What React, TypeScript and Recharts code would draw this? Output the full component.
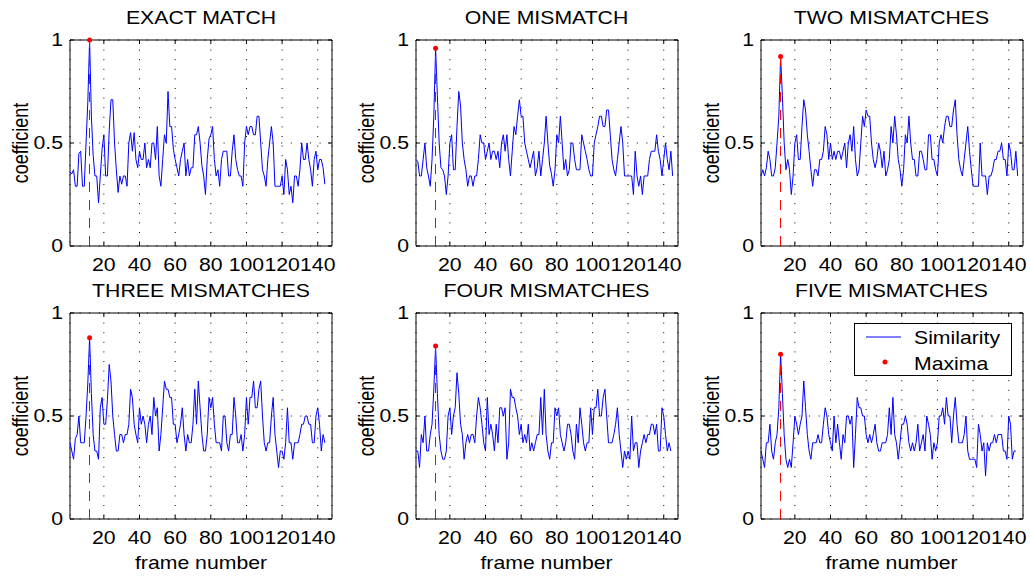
import React from 'react';
import { ComposedChart, Line, XAxis, YAxis, CartesianGrid, ReferenceLine, ReferenceDot, ReferenceArea, Legend } from 'recharts';

const FONT = '"Liberation Sans", Arial, Helvetica, sans-serif';
const STRETCH = 1.18; // the reference text is a bit wider than plain Arial
const PLOT_W = 262;
const PLOT_H = 206;
const AXIS_W = 70;
const TOP_PAD = 40;
const BOTTOM_PAD = 60;
const RIGHT_PAD = 10;

const titles = ['EXACT MATCH', 'ONE MISMATCH', 'TWO MISMATCHES', 'THREE MISMATCHES', 'FOUR MISMATCHES', 'FIVE MISMATCHES'];
const xTicks = [20, 40, 60, 80, 100, 120, 140];
const yTicks = [0, 0.5, 1];
const frameRange = [1, 148];
const peakFrame = 12;
const legendLabels = ['Similarity', 'Maxima'];

const exactMatch = [
  0.36, 0.35, 0.37, 0.29, 0.29, 0.45, 0.46, 0.29, 0.29, 0.5, 0.7, 1.0,
  0.63, 0.44, 0.34, 0.34, 0.21, 0.34, 0.47, 0.54, 0.34, 0.34, 0.56, 0.71, 0.71, 0.5,
  0.37, 0.26, 0.34, 0.3, 0.34, 0.34, 0.29, 0.5, 0.55, 0.46, 0.55, 0.42, 0.38, 0.46,
  0.42, 0.42, 0.5, 0.38, 0.42, 0.38, 0.5, 0.5, 0.42, 0.58, 0.34, 0.29, 0.42, 0.54,
  0.5, 0.75, 0.58, 0.58, 0.47, 0.42, 0.38, 0.34, 0.42, 0.46, 0.5, 0.34, 0.42, 0.34,
  0.38, 0.38, 0.54, 0.54, 0.58,
  0.5, 0.39, 0.34, 0.25, 0.42, 0.52, 0.54, 0.58, 0.42, 0.34,
  0.37, 0.29, 0.42, 0.46, 0.46, 0.46, 0.34, 0.34, 0.46, 0.54,
  0.42, 0.37, 0.34, 0.34, 0.29, 0.5, 0.58, 0.54, 0.58, 0.58,
  0.54, 0.54, 0.63, 0.63, 0.5, 0.37, 0.34, 0.29, 0.42, 0.5,
  0.58, 0.5, 0.29, 0.29, 0.29, 0.29, 0.34, 0.25, 0.42, 0.37,
  0.25, 0.29, 0.21, 0.34, 0.34, 0.29, 0.37, 0.5, 0.42, 0.42,
  0.5, 0.42, 0.37, 0.29, 0.42, 0.46, 0.37, 0.42, 0.42, 0.38, 0.3,
];

const oneMismatch = [
  0.42, 0.41, 0.34, 0.34, 0.42, 0.5, 0.38, 0.34, 0.29, 0.42, 0.63, 0.96,
  0.73, 0.5, 0.38, 0.37, 0.34, 0.25, 0.34, 0.5, 0.54, 0.37, 0.37, 0.58, 0.75, 0.68,
  0.5, 0.42, 0.37, 0.29, 0.34, 0.34, 0.29, 0.34, 0.34, 0.42, 0.54, 0.5, 0.5, 0.42,
  0.46, 0.5, 0.42, 0.46, 0.46, 0.42, 0.46, 0.38, 0.5, 0.54, 0.46, 0.54, 0.42, 0.34,
  0.46, 0.58, 0.54, 0.63, 0.71, 0.63, 0.63, 0.5, 0.46, 0.42, 0.38, 0.42, 0.46, 0.34,
  0.38, 0.46, 0.34, 0.42,
  0.5, 0.63, 0.5, 0.39, 0.35, 0.29, 0.37, 0.54, 0.5, 0.63, 0.5, 0.37, 0.42, 0.34,
  0.37, 0.5, 0.5, 0.42, 0.37, 0.37, 0.37, 0.54, 0.5, 0.46, 0.42, 0.37, 0.34, 0.34,
  0.5, 0.54, 0.58, 0.63, 0.63, 0.58, 0.58, 0.66, 0.66, 0.54, 0.42, 0.37, 0.34, 0.42,
  0.5, 0.58, 0.5, 0.34, 0.34, 0.34, 0.34, 0.34, 0.25, 0.46, 0.34, 0.29, 0.34, 0.25,
  0.34, 0.34, 0.34, 0.42, 0.46, 0.46, 0.46, 0.54, 0.46, 0.42, 0.34, 0.42, 0.5, 0.42,
  0.37, 0.46, 0.34,
];

const twoMismatches = [
  0.34, 0.37, 0.34, 0.38, 0.46, 0.42, 0.34, 0.34, 0.38, 0.5, 0.63, 0.92,
  0.73, 0.5, 0.37, 0.42, 0.37, 0.25, 0.34, 0.5, 0.54, 0.42, 0.42, 0.58, 0.71, 0.66,
  0.54, 0.46, 0.37, 0.29, 0.37, 0.37, 0.34, 0.42, 0.42, 0.46, 0.58, 0.54, 0.42, 0.5,
  0.42, 0.46, 0.42, 0.46, 0.46, 0.42, 0.46, 0.5, 0.38, 0.5, 0.54, 0.46, 0.58, 0.42,
  0.34, 0.37, 0.5, 0.63, 0.58, 0.66, 0.63, 0.63, 0.5, 0.42, 0.38, 0.42, 0.5, 0.46,
  0.38, 0.46,
  0.34, 0.37, 0.42, 0.58, 0.5, 0.63, 0.54, 0.42, 0.37, 0.29,
  0.37, 0.54, 0.5, 0.63, 0.5, 0.42, 0.42, 0.34, 0.34, 0.46,
  0.46, 0.42, 0.37, 0.37, 0.54, 0.54, 0.42, 0.42, 0.37, 0.34,
  0.5, 0.54, 0.5, 0.58, 0.63, 0.63, 0.58, 0.58, 0.66, 0.71,
  0.54, 0.42, 0.37, 0.34, 0.42, 0.5, 0.58, 0.46, 0.37, 0.29,
  0.29, 0.29, 0.29, 0.5, 0.34, 0.34, 0.34, 0.25, 0.34, 0.34,
  0.37, 0.42, 0.42, 0.46, 0.46, 0.5, 0.42, 0.42, 0.34, 0.5,
  0.46, 0.37, 0.37, 0.46, 0.34,
];

const threeMismatches = [
  0.37, 0.33, 0.29, 0.39, 0.41, 0.5, 0.37, 0.37, 0.37, 0.5, 0.66, 0.88,
  0.61, 0.41, 0.33, 0.33, 0.29, 0.54, 0.59, 0.46, 0.46, 0.58, 0.75, 0.67, 0.5, 0.41,
  0.33, 0.33, 0.41, 0.41, 0.37, 0.41, 0.41, 0.46, 0.63, 0.59, 0.46, 0.41, 0.37, 0.54,
  0.46, 0.5, 0.46, 0.37, 0.46, 0.5, 0.41, 0.59, 0.5, 0.54, 0.33, 0.41, 0.54, 0.67,
  0.63, 0.63, 0.59, 0.59, 0.46, 0.46, 0.37, 0.41, 0.46, 0.54, 0.41, 0.33, 0.41, 0.37,
  0.37, 0.46, 0.63, 0.46, 0.67,
  0.54, 0.41, 0.33, 0.33, 0.41, 0.59, 0.54, 0.59, 0.46, 0.37, 0.37,
  0.37, 0.33, 0.5, 0.5, 0.37, 0.33, 0.41, 0.41, 0.59, 0.5,
  0.37, 0.37, 0.41, 0.33, 0.41, 0.59, 0.46, 0.59, 0.59, 0.67,
  0.54, 0.54, 0.63, 0.67, 0.5, 0.37, 0.33, 0.37, 0.37, 0.5,
  0.59, 0.41, 0.33, 0.25, 0.33, 0.33, 0.29, 0.37, 0.54, 0.37,
  0.37, 0.29, 0.37, 0.37, 0.37, 0.41, 0.46, 0.46, 0.5, 0.5,
  0.46, 0.46, 0.37, 0.37, 0.5, 0.54, 0.46, 0.33, 0.41, 0.37,
];

const fourMismatches = [
  0.33, 0.33, 0.25, 0.41, 0.37, 0.5, 0.33, 0.33, 0.41, 0.46, 0.63, 0.84,
  0.61, 0.41, 0.33, 0.29, 0.29, 0.33, 0.5, 0.54, 0.41, 0.5,
  0.54, 0.71, 0.61, 0.46, 0.41, 0.29, 0.37, 0.41, 0.37, 0.41,
  0.41, 0.37, 0.5, 0.59, 0.54, 0.46, 0.37, 0.33, 0.59, 0.41,
  0.46, 0.41, 0.33, 0.46, 0.37, 0.54, 0.54, 0.5, 0.54, 0.29,
  0.37, 0.63, 0.59, 0.59, 0.54, 0.5, 0.41, 0.46, 0.37, 0.41,
  0.37, 0.46, 0.33, 0.37, 0.33, 0.37, 0.41, 0.41,
  0.59, 0.41, 0.63, 0.41, 0.33, 0.29, 0.37, 0.37, 0.54, 0.5,
  0.54, 0.41, 0.37, 0.33, 0.37, 0.46, 0.46, 0.41, 0.33, 0.29,
  0.46, 0.37, 0.54, 0.46, 0.37, 0.33, 0.37, 0.37, 0.54, 0.41,
  0.54, 0.54, 0.63, 0.5, 0.5, 0.59, 0.63, 0.5, 0.37, 0.37,
  0.37, 0.41, 0.46, 0.54, 0.41, 0.33, 0.25, 0.33, 0.29, 0.33,
  0.29, 0.5, 0.33, 0.37, 0.37, 0.25, 0.33, 0.37, 0.41, 0.37,
  0.41, 0.41, 0.46, 0.46, 0.41, 0.46, 0.33, 0.33, 0.54, 0.5,
  0.41, 0.33, 0.37, 0.33,
];

const fiveMismatches = [
  0.33, 0.29, 0.25, 0.37, 0.37, 0.46, 0.33, 0.29, 0.37, 0.41, 0.54, 0.8,
  0.61, 0.41, 0.29, 0.25, 0.29, 0.25, 0.37, 0.5, 0.46, 0.41,
  0.46, 0.5, 0.67, 0.54, 0.41, 0.33, 0.29, 0.37, 0.37, 0.37,
  0.41, 0.37, 0.37, 0.46, 0.54, 0.5, 0.41, 0.37, 0.33, 0.5,
  0.37, 0.46, 0.37, 0.29, 0.41, 0.37, 0.5, 0.5, 0.46, 0.5,
  0.25, 0.41, 0.59, 0.54, 0.54, 0.5, 0.5, 0.41, 0.37, 0.41,
  0.37, 0.41, 0.46, 0.37, 0.33, 0.33,
  0.37, 0.37, 0.37, 0.41, 0.54, 0.41, 0.59, 0.41, 0.37, 0.29, 0.37,
  0.46, 0.46, 0.5, 0.46, 0.37, 0.33, 0.37, 0.33, 0.37, 0.46,
  0.33, 0.37, 0.41, 0.33, 0.5, 0.46, 0.41, 0.29, 0.37, 0.33,
  0.37, 0.5, 0.5, 0.54, 0.46, 0.59, 0.5, 0.5, 0.37, 0.5,
  0.59, 0.46, 0.37, 0.37, 0.37, 0.41, 0.5, 0.33, 0.29, 0.29,
  0.29, 0.29, 0.25, 0.46, 0.41, 0.33, 0.37, 0.21, 0.37, 0.33,
  0.37, 0.37, 0.41, 0.37, 0.41, 0.41, 0.41, 0.33, 0.33, 0.29,
  0.5, 0.46, 0.29, 0.33, 0.33,
];

const series = [exactMatch, oneMismatch, twoMismatches, threeMismatches, fourMismatches, fiveMismatches];
const plotLefts = [70, 415.5, 760.5];
const plotTops = [40, 313];

const renderLegend = () => (
  <svg width={158} height={53} style={{ display: 'block' }}>
    <rect x={0.5} y={0.5} width={157} height={52} fill="#fff" stroke="#000" />
    <line x1={12} x2={47} y1={14} y2={14} stroke="#0000ff" />
    <circle cx={31} cy={39} r={2.5} fill="#ff0000" />
    <text transform={`translate(60,21) scale(${STRETCH},1)`} fontSize={18} fontFamily={FONT} fill="#000">{legendLabels[0]}</text>
    <text transform={`translate(60,47) scale(${STRETCH},1)`} fontSize={18} fontFamily={FONT} fill="#000">{legendLabels[1]}</text>
  </svg>
);

interface PanelProps {
  values: number[];
  left: number;
  top: number;
  showLegend?: boolean;
}

const Panel: React.FC<PanelProps> = ({ values, left, top, showLegend = false }) => {
  const data = values.map((v, i) => ({ frame: i + 1, similarity: v }));
  const peak = values[peakFrame - 1];

  const xTick = (p: any) => {
    const { x, y, payload } = p;
    return (
      <g>
        <line x1={x} x2={x} y1={y} y2={y - 4} stroke="#000" />
        <line x1={x} x2={x} y1={y - PLOT_H} y2={y - PLOT_H + 4} stroke="#000" />
        <text transform={`translate(${x},${y + 25}) scale(${STRETCH},1)`} textAnchor="middle" fontSize={18} fontFamily={FONT} fill="#000">
          {payload.value}
        </text>
      </g>
    );
  };

  const yTick = (p: any) => {
    const { x, y, payload } = p;
    return (
      <g>
        <line x1={x} x2={x + 4} y1={y} y2={y} stroke="#000" />
        <line x1={x + PLOT_W} x2={x + PLOT_W - 4} y1={y} y2={y} stroke="#000" />
        <text transform={`translate(${x - 7},${y + 6}) scale(${STRETCH},1)`} textAnchor="end" fontSize={18} fontFamily={FONT} fill="#000">
          {payload.value}
        </text>
      </g>
    );
  };

  return (
    <div style={{ position: 'absolute', left: left - AXIS_W, top: top - TOP_PAD }}>
      <ComposedChart
        width={AXIS_W + PLOT_W + RIGHT_PAD}
        height={TOP_PAD + PLOT_H + BOTTOM_PAD}
        data={data}
        margin={{ top: TOP_PAD, right: RIGHT_PAD, bottom: 0, left: 0 }}
      >
        <CartesianGrid stroke="#000" strokeDasharray="1 8.6" />
        <XAxis
          type="number"
          dataKey="frame"
          domain={frameRange}
          ticks={xTicks}
          interval={0}
          height={BOTTOM_PAD}
          axisLine={false}
          tickLine={false}
          tickSize={0}
          tickMargin={0}
          tick={xTick}
        />
        <YAxis
          type="number"
          domain={[0, 1]}
          ticks={yTicks}
          width={AXIS_W}
          axisLine={false}
          tickLine={false}
          tickSize={0}
          tickMargin={0}
          tick={yTick}
        />
        <ReferenceArea x1={frameRange[0]} x2={frameRange[1]} y1={0} y2={1} fill="none" stroke="#000" strokeWidth={1} />
        <Line type="linear" dataKey="similarity" name={legendLabels[0]} stroke="#0000ff" strokeWidth={1} dot={false} isAnimationActive={false} />
        <ReferenceLine
          segment={[{ x: peakFrame, y: 0 }, { x: peakFrame, y: peak }]}
          stroke="#ff0000"
          strokeWidth={1}
          strokeDasharray="10 8"
          shapeRendering="crispEdges"
        />
        <ReferenceDot x={peakFrame} y={peak} r={2.5} fill="#ff0000" stroke="none" />
        {showLegend && (
          <Legend
            content={renderLegend}
            layout="horizontal"
            verticalAlign="middle"
            align="center"
            wrapperStyle={{ left: 163.5, top: 50, width: 158, height: 53 }}
          />
        )}
      </ComposedChart>
    </div>
  );
};

const App: React.FC = () => {
  return (
    <div style={{ position: 'absolute', left: 0, top: 0, width: 1030, height: 576, background: '#fff', overflow: 'hidden' }}>
      {series.map((values, i) => (
        <Panel key={titles[i]} values={values} left={plotLefts[i % 3]} top={plotTops[Math.floor(i / 3)]} showLegend={i === 5} />
      ))}
      <svg width={1030} height={576} style={{ position: 'absolute', left: 0, top: 0, pointerEvents: 'none' }}>
        {titles.map((t, i) => {
          const cx = plotLefts[i % 3] + PLOT_W / 2;
          const top = plotTops[Math.floor(i / 3)];
          return (
            <g key={t}>
              <text transform={`translate(${cx},${top - 16}) scale(${STRETCH},1)`} textAnchor="middle" fontSize={18} fontFamily={FONT} fill="#000">
                {t}
              </text>
              <text
                transform={`translate(${plotLefts[i % 3] - 42},${top + PLOT_H / 2}) scale(${STRETCH},1) rotate(-90)`}
                textAnchor="middle"
                fontSize={18}
                fontFamily={FONT}
                fill="#000"
              >
                coefficient
              </text>
              {i >= 3 && (
                <text transform={`translate(${cx},${top + PLOT_H + 50}) scale(${STRETCH},1)`} textAnchor="middle" fontSize={18} fontFamily={FONT} fill="#000">
                  frame number
                </text>
              )}
            </g>
          );
        })}
      </svg>
    </div>
  );
};

export default App;
